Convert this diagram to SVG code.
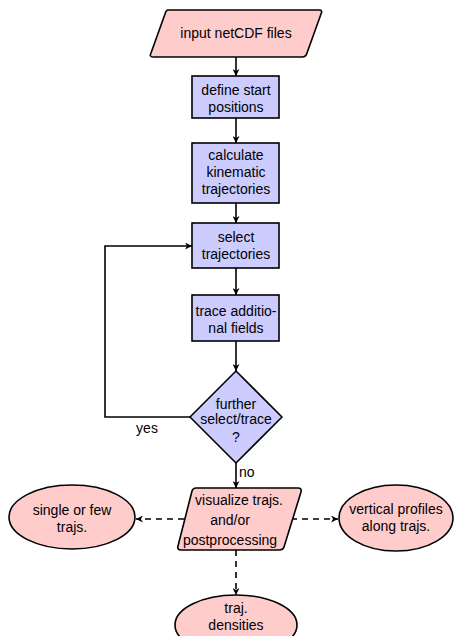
<svg xmlns="http://www.w3.org/2000/svg" width="454" height="636" viewBox="0 0 454 636">
<style>
.io{fill:#ffcccc;stroke:#000;stroke-width:1.6;stroke-linejoin:round}
.pr{fill:#ccccff;stroke:#000;stroke-width:1.6}
.ov{fill:#ffcccc;stroke:#000;stroke-width:1.6}
text{font-family:"Liberation Sans",Arial,sans-serif;font-size:14px;fill:#000;text-anchor:middle}
.c{fill:none;stroke:#000;stroke-width:1.6}
.d{stroke-dasharray:6,5}
</style>
<defs>
<marker id="ah" viewBox="0 0 10 10" refX="10" refY="5" markerWidth="7" markerHeight="7" markerUnits="userSpaceOnUse" orient="auto">
<path d="M0,0 L10,5 L0,10 L3,5 Z" fill="#000"/>
</marker>
</defs>
<g id="connectors">
<path class="c" d="M236,57 V76" marker-end="url(#ah)"/>
<path class="c" d="M236,118 V143" marker-end="url(#ah)"/>
<path class="c" d="M236,203 V223" marker-end="url(#ah)"/>
<path class="c" d="M236,268 V295" marker-end="url(#ah)"/>
<path class="c" d="M236,341 V371" marker-end="url(#ah)"/>
<path class="c" d="M190,417 H105 V246 H192" marker-end="url(#ah)"/>
<path class="c" d="M236,463 V488" marker-end="url(#ah)"/>
<path class="c d" d="M184,519 H136" marker-end="url(#ah)"/>
<path class="c d" d="M291,519 H338" marker-end="url(#ah)"/>
<path class="c d" d="M236,550 V595" marker-end="url(#ah)"/>
<text x="147" y="433">yes</text>
<text x="239" y="477" style="text-anchor:start">no</text>
</g>
<g id="input">
<path class="io" d="M168,10 H319 Q323,10 321,14 L307,53 Q306,57 302,57 H153 Q149,57 151,53 L165,14 Q166,10 168,10 Z"/>
<text x="236" y="38">input netCDF files</text>
</g>
<g id="define">
<rect class="pr" x="192" y="76" width="87" height="42"/>
<text x="236" y="95">define start</text>
<text x="236" y="112">positions</text>
</g>
<g id="calculate">
<rect class="pr" x="192" y="143" width="87" height="60"/>
<text x="236" y="160">calculate</text>
<text x="236" y="177">kinematic</text>
<text x="236" y="194">trajectories</text>
</g>
<g id="select">
<rect class="pr" x="192" y="223" width="87" height="45"/>
<text x="236" y="242">select</text>
<text x="236" y="259">trajectories</text>
</g>
<g id="trace">
<rect class="pr" x="192" y="295" width="87" height="46"/>
<text x="236" y="316">trace additio-</text>
<text x="236" y="333">nal fields</text>
</g>
<g id="decision">
<path class="pr" d="M236,371 L282,417 L236,463 L190,417 Z" stroke-linejoin="round"/>
<text x="236" y="409">further</text>
<text x="236" y="424">select/trace</text>
<text x="236" y="442">?</text>
</g>
<g id="visualize">
<path class="io" d="M196,488 H298 Q302,488 301,492 L284,547 Q283,550 279,550 H181 Q177,550 178,546 L192,491 Q193,488 196,488 Z"/>
<text x="239" y="505">visualize trajs.</text>
<text x="230" y="525">and/or</text>
<text x="230" y="545">postprocessing</text>
</g>
<g id="single">
<ellipse class="ov" cx="72" cy="517" rx="63" ry="32"/>
<text x="72" y="515">single or few</text>
<text x="72" y="532">trajs.</text>
</g>
<g id="vertical">
<ellipse class="ov" cx="396" cy="518" rx="57" ry="33"/>
<text x="396" y="514">vertical profiles</text>
<text x="396" y="531">along trajs.</text>
</g>
<g id="densities">
<ellipse class="ov" cx="236" cy="625" rx="61" ry="30"/>
<text x="236" y="613">traj.</text>
<text x="236" y="630">densities</text>
</g>
</svg>
